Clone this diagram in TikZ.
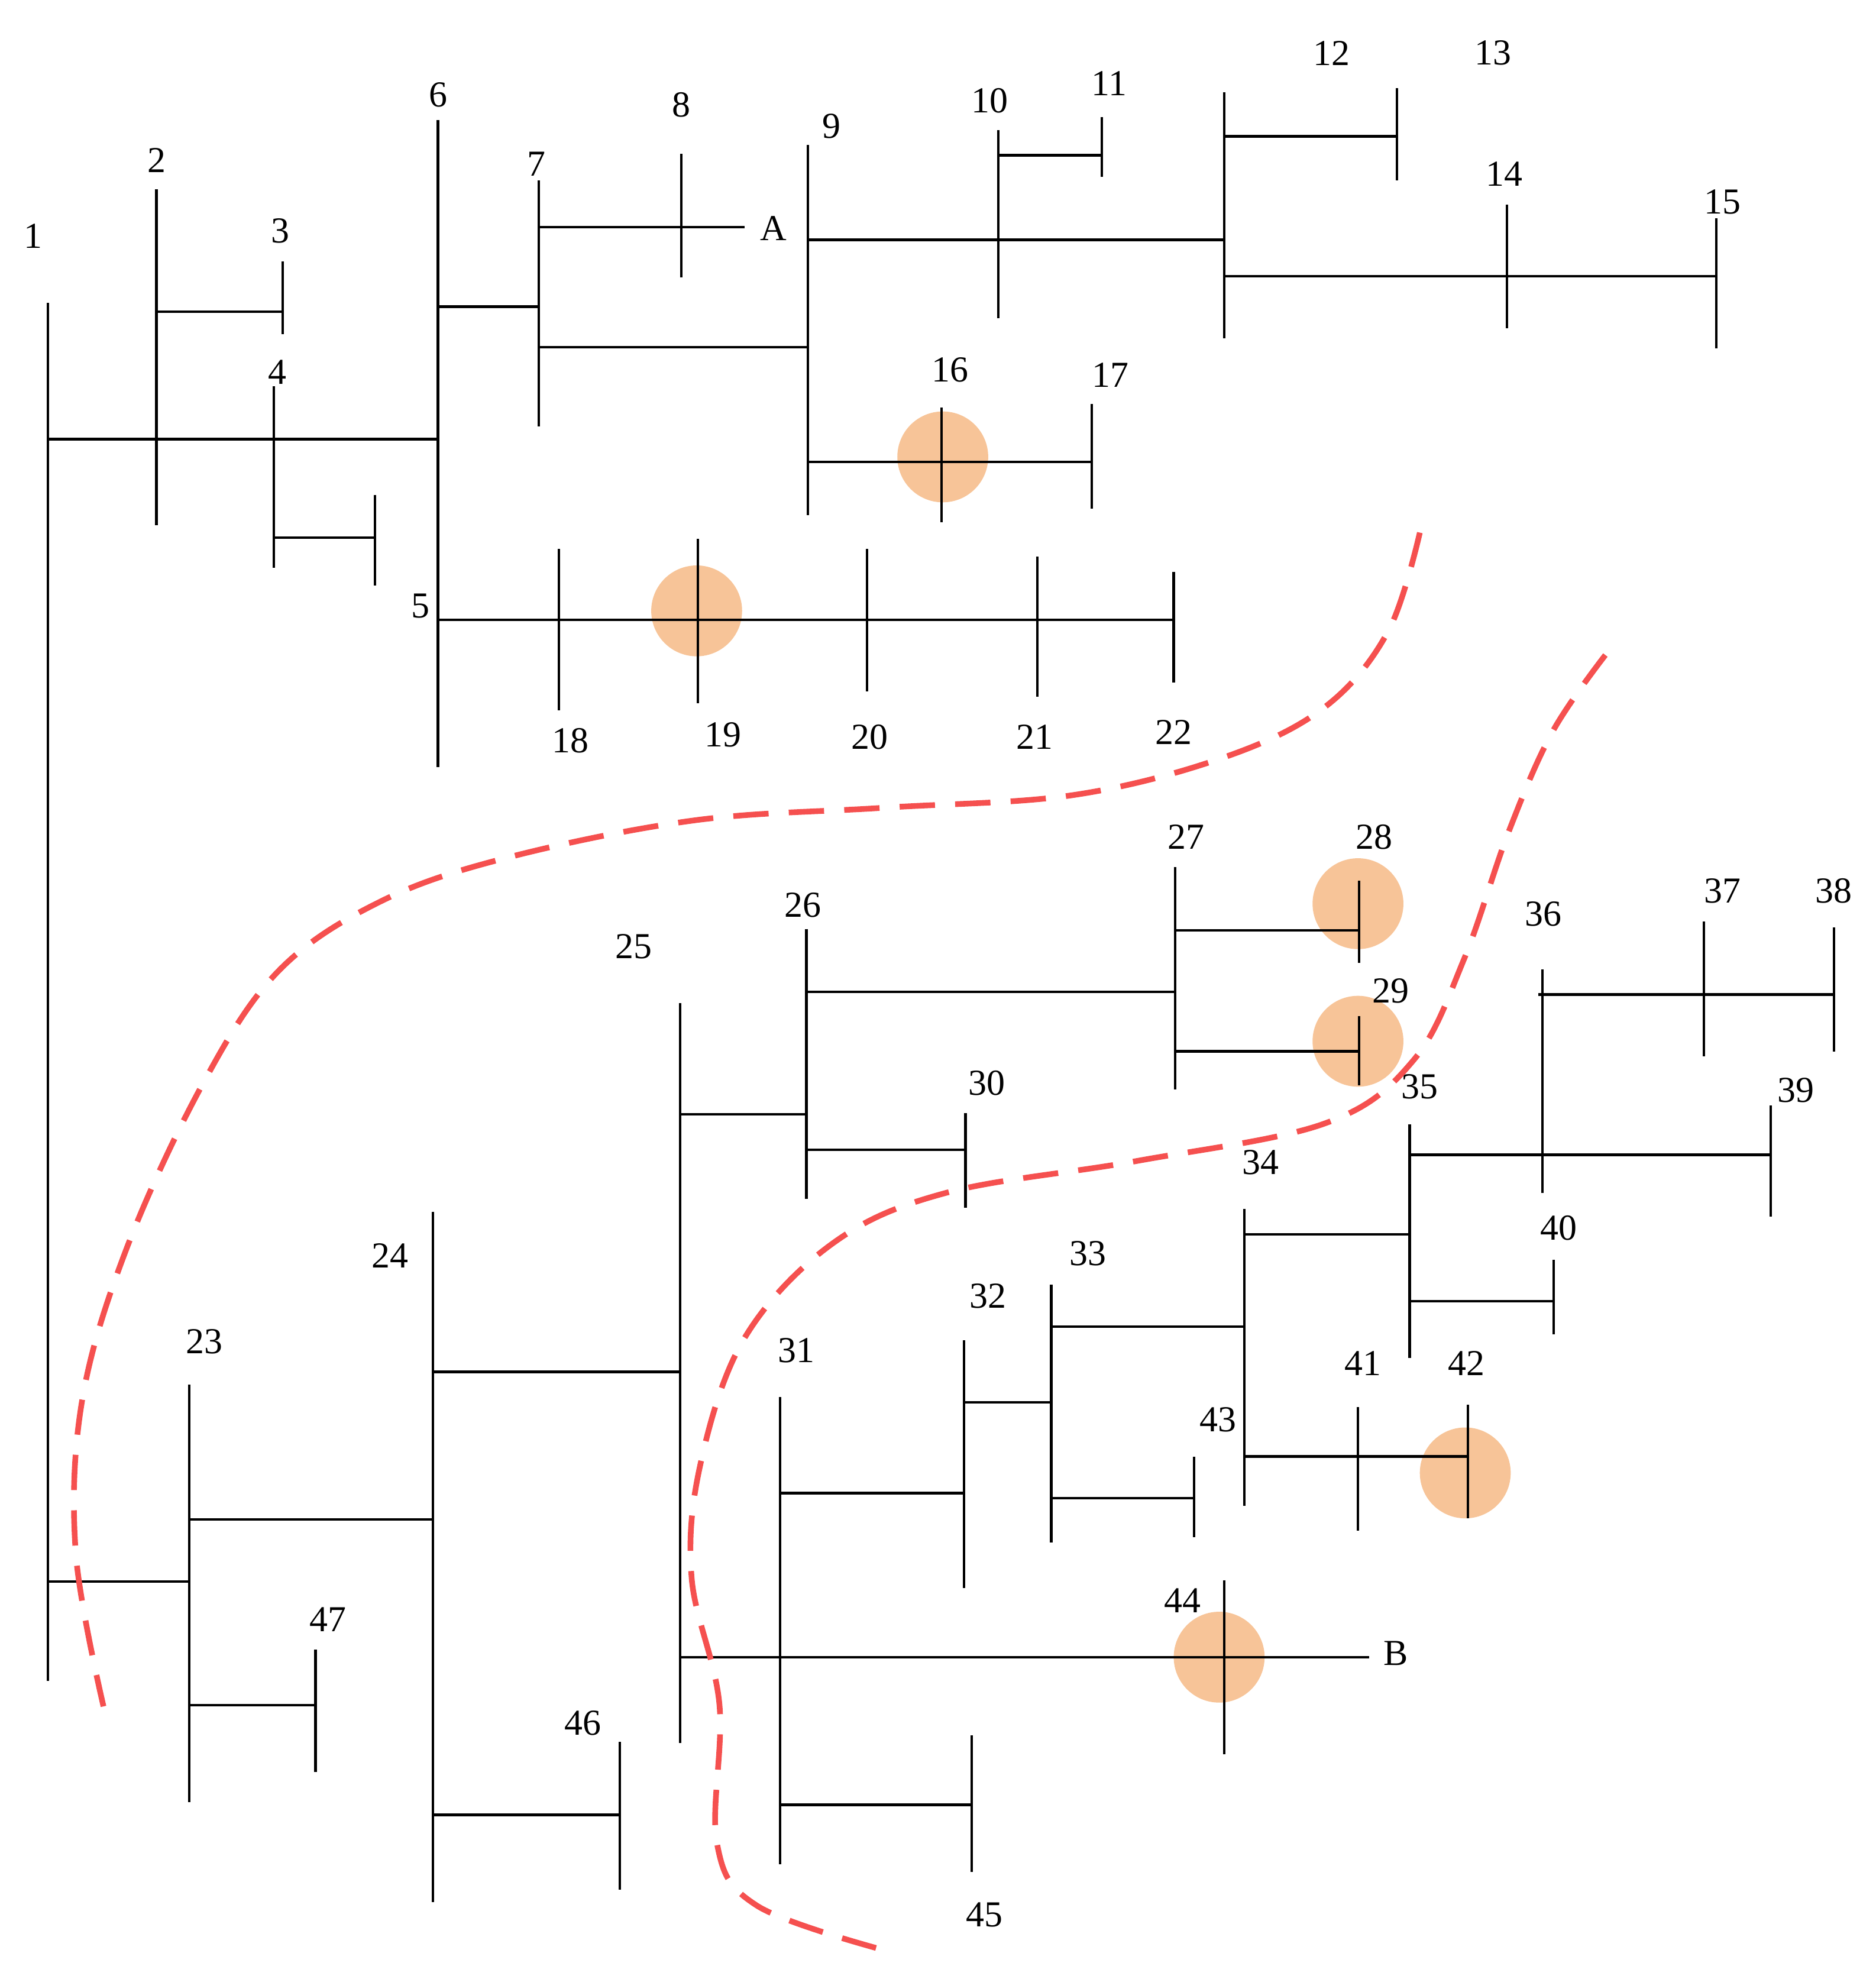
\documentclass[tikz,border=0pt]{standalone}
\usepackage{fontspec}
\setmainfont{Liberation Serif}
\definecolor{gencol}{RGB}{247,196,152}
\begin{document}
\begin{tikzpicture}[x=1pt,y=-1pt,line width=2pt,
  lab/.style={font=\fontsize{29}{29}\selectfont,inner sep=0pt},
  gen/.style={fill=gencol,draw=none},
  cut/.style={draw={rgb,255:red,245;green,80;blue,79},line width=4.5pt,dash pattern=on 28pt off 16pt}]
\useasboundingbox (0,0) rectangle (1486,1568);
% generators
\foreach \x/\y in {747/362,552/484,1076/716,1076/825,966/1313,1161/1167}
  \fill[gen] (\x,\y) circle (36);
% upper network
\draw (38,240)--(38,1332);
\draw (38,348)--(347,348);
\draw (124,150)--(124,416); \draw (124,247)--(224,247); \draw (224,207)--(224,265);
\draw (217,306)--(217,450); \draw (217,426)--(297,426); \draw (297,392)--(297,464);
\draw (347,95)--(347,608);
\draw (347,243)--(427,243); \draw (427,143)--(427,338);
\draw (427,180)--(590,180); \draw (540,122)--(540,220);
\draw (427,275)--(640,275); \draw (640,115)--(640,408);
\draw (640,190)--(970,190); \draw (791,103)--(791,252);
\draw (791,123)--(873,123); \draw (873,93)--(873,140);
\draw (970,73)--(970,268); \draw (970,108)--(1107,108); \draw (1107,70)--(1107,143);
\draw (970,219)--(1360,219); \draw (1194,162)--(1194,260); \draw (1360,173)--(1360,276);
\draw (640,366)--(865,366); \draw (746,323)--(746,414); \draw (865,320)--(865,403);
\draw (347,491)--(930,491);
\draw (443,435)--(443,563); \draw (553,427)--(553,557); \draw (687,435)--(687,548);
\draw (822,441)--(822,552); \draw (930,453)--(930,541);
% lower network
\draw (38,1253)--(150,1253); \draw (150,1097)--(150,1428);
\draw (150,1351)--(250,1351); \draw (250,1307)--(250,1404);
\draw (150,1204)--(343,1204); \draw (343,960)--(343,1507);
\draw (343,1438)--(491,1438); \draw (491,1380)--(491,1497);
\draw (343,1087)--(539,1087); \draw (539,795)--(539,1381);
\draw (539,883)--(639,883); \draw (639,736)--(639,950);
\draw (639,911)--(765,911); \draw (765,882)--(765,957);
\draw (639,786)--(931,786); \draw (931,687)--(931,863);
\draw (931,737)--(1077,737); \draw (1077,698)--(1077,763);
\draw (931,833)--(1077,833); \draw (1077,805)--(1077,860);
\draw (539,1313)--(1085,1313); \draw (970,1252)--(970,1390);
\draw (618,1107)--(618,1477); \draw (618,1183)--(764,1183); \draw (764,1062)--(764,1258);
\draw (618,1430)--(770,1430); \draw (770,1375)--(770,1483);
\draw (764,1111)--(833,1111); \draw (833,1018)--(833,1222);
\draw (833,1187)--(946,1187); \draw (946,1154)--(946,1218);
\draw (833,1051)--(986,1051); \draw (986,958)--(986,1193);
\draw (986,1154)--(1163,1154); \draw (1076,1115)--(1076,1213); \draw (1163,1113)--(1163,1203);
\draw (986,978)--(1117,978); \draw (1117,891)--(1117,1076);
\draw (1117,1031)--(1231,1031); \draw (1231,998)--(1231,1057);
\draw (1117,915)--(1403,915); \draw (1403,876)--(1403,964);
\draw (1222,768)--(1222,945); \draw (1219,788)--(1453,788);
\draw (1350,730)--(1350,837); \draw (1453,735)--(1453,833);
% labels
\foreach \t/\x/\y in {1/26/187,2/124/127,3/222/183,4/220/295,5/333/480,6/347/75,7/425/130,8/540/83,A/613/181,9/659/100,10/784/80,11/879/66,12/1055/42,13/1183/42,14/1192/138,15/1365/160,16/753/293,17/880/297,18/452/587,19/573/582,20/689/584,21/820/584,22/930/580,
23/162/1063,24/309/995,25/502/750,26/636/717,27/940/663,28/1089/663,29/1102/785,30/782/858,31/631/1070,32/783/1027,33/862/993,34/999/921,35/1125/861,36/1223/724,37/1365/706,38/1453/706,39/1423/864,40/1235/973,41/1080/1080,42/1162/1080,43/965/1125,44/937/1268,45/780/1517,46/462/1365,47/260/1283,B/1106/1310}
  \node[lab] at (\x,\y) {\t};
% cut lines
\draw[cut] plot[smooth,tension=0.6] coordinates {(1125,422) (1100,500) (1050,560) (970,600) (850,630) (700,640) (550,650) (400,680) (300,715) (220,770) (160,860) (100,990) (65,1110) (60,1230) (82,1352)};
\draw[cut] plot[smooth,tension=0.6] coordinates {(1272,519) (1230,580) (1195,660) (1160,760) (1120,840) (1050,890) (900,920) (750,945) (660,985) (590,1060) (555,1160) (548,1250) (570,1350) (568,1460) (600,1510) (700,1545)};
\end{tikzpicture}
\end{document}
